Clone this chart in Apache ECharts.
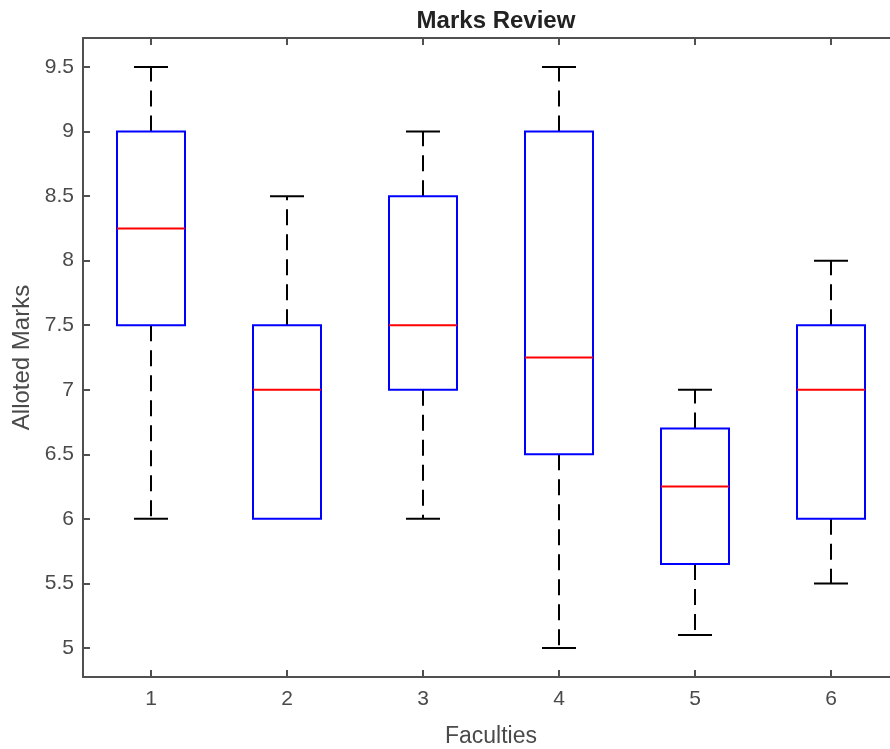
<!DOCTYPE html>
<html>
<head>
<meta charset="utf-8">
<script src="https://cdn.jsdelivr.net/npm/echarts@6/dist/echarts.min.js"></script>
<style>html,body{margin:0;padding:0;background:#fff}#c{width:890px;height:749px}</style>
</head>
<body>
<div id="c"></div>
<script>
const categories = ['1', '2', '3', '4', '5', '6'];
const lowerWhisker = [6, 6, 6, 5, 5.1, 5.5];
const q1 = [7.5, 6, 7, 6.5, 5.65, 6];
const median = [8.25, 7, 7.5, 7.25, 6.25, 7];
const q3 = [9, 7.5, 8.5, 9, 6.7, 7.5];
const upperWhisker = [9.5, 8.5, 9, 9.5, 7, 8];
const yTicks = [5, 5.5, 6, 6.5, 7, 7.5, 8, 8.5, 9, 9.5];

const boxData = categories.map((c, i) => [i, lowerWhisker[i], q1[i], median[i], q3[i], upperWhisker[i]]);

const axisColor = '#505050';
const textColor = '#4a4a4a';
const font = 'Liberation Sans, Arial, sans-serif';

function renderBox(params, api) {
  const x = api.value(0);
  const band = api.size([1, 0])[0];
  const half = band * 0.25;
  const capHalf = band * 0.125;
  const pLow = api.coord([x, api.value(1)]);
  const pQ1 = api.coord([x, api.value(2)]);
  const pMed = api.coord([x, api.value(3)]);
  const pQ3 = api.coord([x, api.value(4)]);
  const pHigh = api.coord([x, api.value(5)]);
  const cx = pMed[0];
  const dash = { stroke: '#000', lineWidth: 2, lineDash: [16, 9] };
  const solid = { stroke: '#000', lineWidth: 2 };
  const children = [];
  if (api.value(5) > api.value(4)) {
    children.push({ type: 'line', shape: { x1: cx, y1: pQ3[1], x2: cx, y2: pHigh[1] }, style: dash });
    children.push({ type: 'line', shape: { x1: cx - capHalf, y1: pHigh[1], x2: cx + capHalf, y2: pHigh[1] }, style: solid });
  }
  if (api.value(1) < api.value(2)) {
    children.push({ type: 'line', shape: { x1: cx, y1: pQ1[1], x2: cx, y2: pLow[1] }, style: dash });
    children.push({ type: 'line', shape: { x1: cx - capHalf, y1: pLow[1], x2: cx + capHalf, y2: pLow[1] }, style: solid });
  }
  children.push({ type: 'rect', shape: { x: cx - half, y: pQ3[1], width: half * 2, height: pQ1[1] - pQ3[1] },
    style: { fill: 'none', stroke: '#0000ff', lineWidth: 2 } });
  children.push({ type: 'line', shape: { x1: cx - half, y1: pMed[1], x2: cx + half, y2: pMed[1] },
    style: { stroke: '#ff0000', lineWidth: 2 } });
  return { type: 'group', children };
}

const chart = echarts.init(document.getElementById('c'));
const lineStyle = { color: axisColor, width: 2 };
chart.setOption({
  animation: false,
  backgroundColor: '#fff',
  title: {
    text: 'Marks Review', left: 491, top: 4, textAlign: 'center',
    textStyle: { fontFamily: font, fontSize: 24, fontWeight: 'bold', color: '#222' }
  },
  grid: { left: 83, top: 38, width: 816, height: 639, containLabel: false, outerBoundsMode: 'none' },
  xAxis: [
    {
      type: 'category', data: categories, position: 'bottom',
      axisLine: { show: true, lineStyle },
      axisTick: { show: true, inside: true, alignWithLabel: true, length: 7, lineStyle },
      axisLabel: { fontFamily: font, fontSize: 21, color: textColor, margin: 12 },
      splitLine: { show: false },
      name: 'Faculties', nameLocation: 'middle', nameGap: 48,
      nameTextStyle: { fontFamily: font, fontSize: 23, color: textColor }
    },
    {
      type: 'category', data: categories, position: 'top',
      axisLine: { show: true, lineStyle },
      axisTick: { show: true, inside: true, alignWithLabel: true, length: 7, lineStyle },
      axisLabel: { show: false },
      splitLine: { show: false }
    }
  ],
  yAxis: [
    {
      type: 'value', min: 4.775, max: 9.725, position: 'left',
      axisLine: { show: true, lineStyle },
      axisTick: { show: true, inside: true, length: 7, lineStyle, customValues: yTicks },
      axisLabel: { fontFamily: font, fontSize: 21, color: textColor, margin: 9, customValues: yTicks },
      splitLine: { show: false },
      name: 'Alloted Marks', nameLocation: 'middle', nameGap: 48, nameRotate: 90,
      nameTextStyle: { fontFamily: font, fontSize: 24, color: textColor }
    },
    {
      type: 'value', min: 4.775, max: 9.725, position: 'right',
      axisLine: { show: true, lineStyle },
      axisTick: { show: true, inside: true, length: 7, lineStyle, customValues: yTicks },
      axisLabel: { show: false },
      splitLine: { show: false }
    }
  ],
  series: [{
    type: 'custom',
    renderItem: renderBox,
    encode: { x: 0, y: [1, 2, 3, 4, 5] },
    data: boxData,
    clip: false
  }]
});
</script>
</body>
</html>
